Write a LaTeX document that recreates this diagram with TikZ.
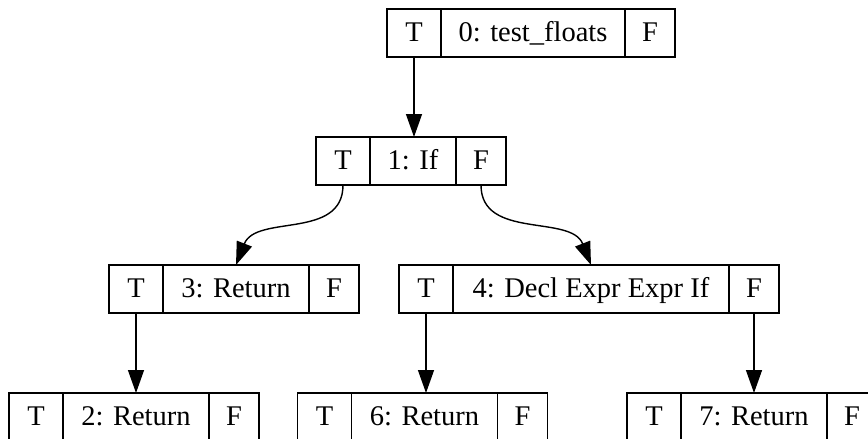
\documentclass[tikz,border=0pt]{standalone}
\usepackage{fontspec}
\setmainfont{Liberation Serif}
\usetikzlibrary{
  arrows.meta,
  positioning,
}
\tikzstyle{cell} = [
  rectangle,
  draw,
  line width=1.4pt,
  outer sep=0pt,
  inner sep=0pt,
  minimum height=48,
  text height=20pt,
  text depth=3.4pt,
  font=\fontsize{28.5}{34}\selectfont,
]
\tikzstyle{tport} = [cell,minimum width=54]
\tikzstyle{fport} = [cell,minimum width=50]
\tikzstyle{arrow} = [
  -{Triangle[length=23pt,width=16pt]},
  line width=1.4pt,
]

\begin{document}
\begin{tikzpicture}[x=1pt,y=-1pt]
			\useasboundingbox (0,0) rectangle (868,439);

			\node[cell,minimum width=184] (n0) at (533,33) {0: test\_floats};
			\node[tport] (n0t) [left=0pt of n0] {T};
			\node[fport] (n0f) [right=0pt of n0] {F};

			\node[cell,minimum width=86] (n1) at (413,161) {1: If};
			\node[tport] (n1t) [left=0pt of n1] {T};
			\node[fport] (n1f) [right=0pt of n1] {F};

			\node[cell,minimum width=146] (n3) at (236,289) {3: Return};
			\node[tport] (n3t) [left=0pt of n3] {T};
			\node[fport] (n3f) [right=0pt of n3] {F};

			\node[cell,minimum width=276] (n4) at (591,289) {4: Decl Expr Expr If};
			\node[tport] (n4t) [left=0pt of n4] {T};
			\node[fport] (n4f) [right=0pt of n4] {F};

			\node[cell,minimum width=146] (n2) at (136,417) {2: Return};
			\node[tport] (n2t) [left=0pt of n2] {T};
			\node[fport] (n2f) [right=0pt of n2] {F};

			\node[cell,minimum width=146] (n6) at (424.5,417) {6: Return};
			\node[tport] (n6t) [left=0pt of n6] {T};
			\node[fport] (n6f) [right=0pt of n6] {F};

			\node[cell,minimum width=146] (n7) at (754,417) {7: Return};
			\node[tport] (n7t) [left=0pt of n7] {T};
			\node[fport] (n7f) [right=0pt of n7] {F};

			\draw[arrow] (n0t.south) -- (n0t.south |- n1.north);
			\draw[arrow] (n1t.south) .. controls +(0,55) and +(20,-51) .. (n3.north);
			\draw[arrow] (n1f.south) .. controls +(0,55) and +(-20,-51) .. (n4.north);
			\draw[arrow] (n3t.south) -- (n3t.south |- n2.north);
			\draw[arrow] (n4t.south) -- (n4t.south |- n6.north);
			\draw[arrow] (n4f.south) -- (n4f.south |- n7.north);
		\end{tikzpicture}
\end{document}
